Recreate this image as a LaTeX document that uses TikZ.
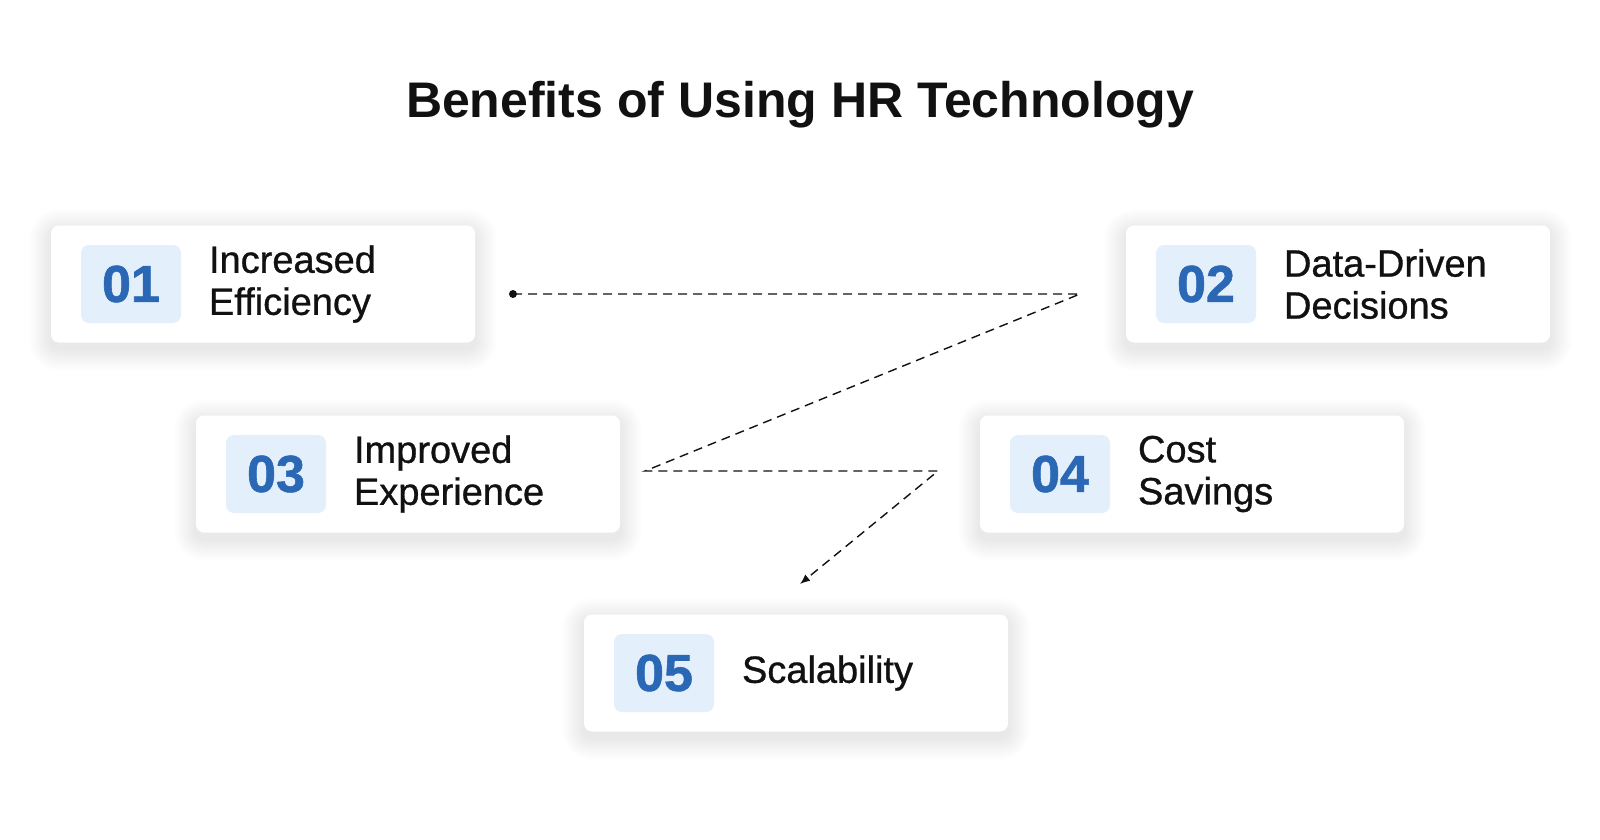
\documentclass[tikz,border=0pt]{standalone}
\usepackage{fontspec}
\setmainfont{Liberation Sans}
\newfontfamily\itemfont{Liberation Sans}[FakeBold=0.8]
\newfontfamily\numfont{Liberation Sans}[BoldFeatures={FakeBold=1.2}]
\usetikzlibrary{positioning, backgrounds, arrows.meta}
\definecolor{numblue}{HTML}{2A68B6}
\definecolor{numfill}{HTML}{E4EFFC}
\definecolor{ink}{HTML}{111111}

\begin{document}
\begin{tikzpicture}[x=1pt, y=-1pt,
				   card/.style={rectangle, rounded corners=8pt, fill=white, minimum width=424pt, minimum height=117pt},
				   numbox/.style={rectangle, rounded corners=8pt, fill=numfill, minimum width=100pt, minimum height=78pt,
				                  text=numblue, font=\numfont\bfseries\fontsize{52}{52}\selectfont},
				   itemtext/.style={inner sep=0pt, align=left, text=ink, font=\itemfont\fontsize{38}{42}\selectfont},
				   glow/.style={fill=black, opacity=0.0045},
				   link/.style={dash pattern=on 9pt off 6pt, line width=1.4pt}]
\useasboundingbox (0,0) rectangle (1600,840);
\node[font=\bfseries\fontsize{50}{50}\selectfont, text=ink] (title) at (800,105) {Benefits of Using HR Technology};

\node[card] (b1) at (263,284) {};
\node[numbox, right=30pt of b1.west] (n1) {01};
\node[itemtext, right=158pt of b1.west] (t1) {Increased\\Efficiency};

\node[card] (b2) at (1338,284) {};
\node[numbox, right=30pt of b2.west] (n2) {02};
\node[itemtext, right=158pt of b2.west] (t2) {Data-Driven\\Decisions};

\node[card] (b3) at (408,474) {};
\node[numbox, right=30pt of b3.west] (n3) {03};
\node[itemtext, right=158pt of b3.west] (t3) {Improved\\Experience};

\node[card] (b4) at (1192,474) {};
\node[numbox, right=30pt of b4.west] (n4) {04};
\node[itemtext, right=158pt of b4.west] (t4) {Cost\\Savings};

\node[card] (b5) at (796,673) {};
\node[numbox, right=30pt of b5.west] (n5) {05};
\node[itemtext, right=158pt of b5.west] (t5) {Scalability};

% soft shadows behind the cards
\begin{pgfonlayer}{background}
\fill[white] (0,0) rectangle (1600,840);
\foreach \b in {b1,b2,b3,b4,b5}
  \foreach \k in {1,...,22}
    \fill[glow, rounded corners=8pt+\k pt] ([shift={(-\k,-\k+6)}]\b.north west) rectangle ([shift={(\k,\k+6)}]\b.south east);
\end{pgfonlayer}

% zig-zag path
\coordinate (c1) at (513,294);
\coordinate (c2) at (1080,294);
\coordinate (c3) at (645,471);
\coordinate (c4) at (938,471);
\coordinate (c5) at (800,584);
\fill[ink] (c1) circle (4pt);
\draw[link, ink, -{Latex[length=10pt,width=8pt]}] (c1) -- (c2) -- (c3) -- (c4) -- (c5);
\end{tikzpicture}
\end{document}
